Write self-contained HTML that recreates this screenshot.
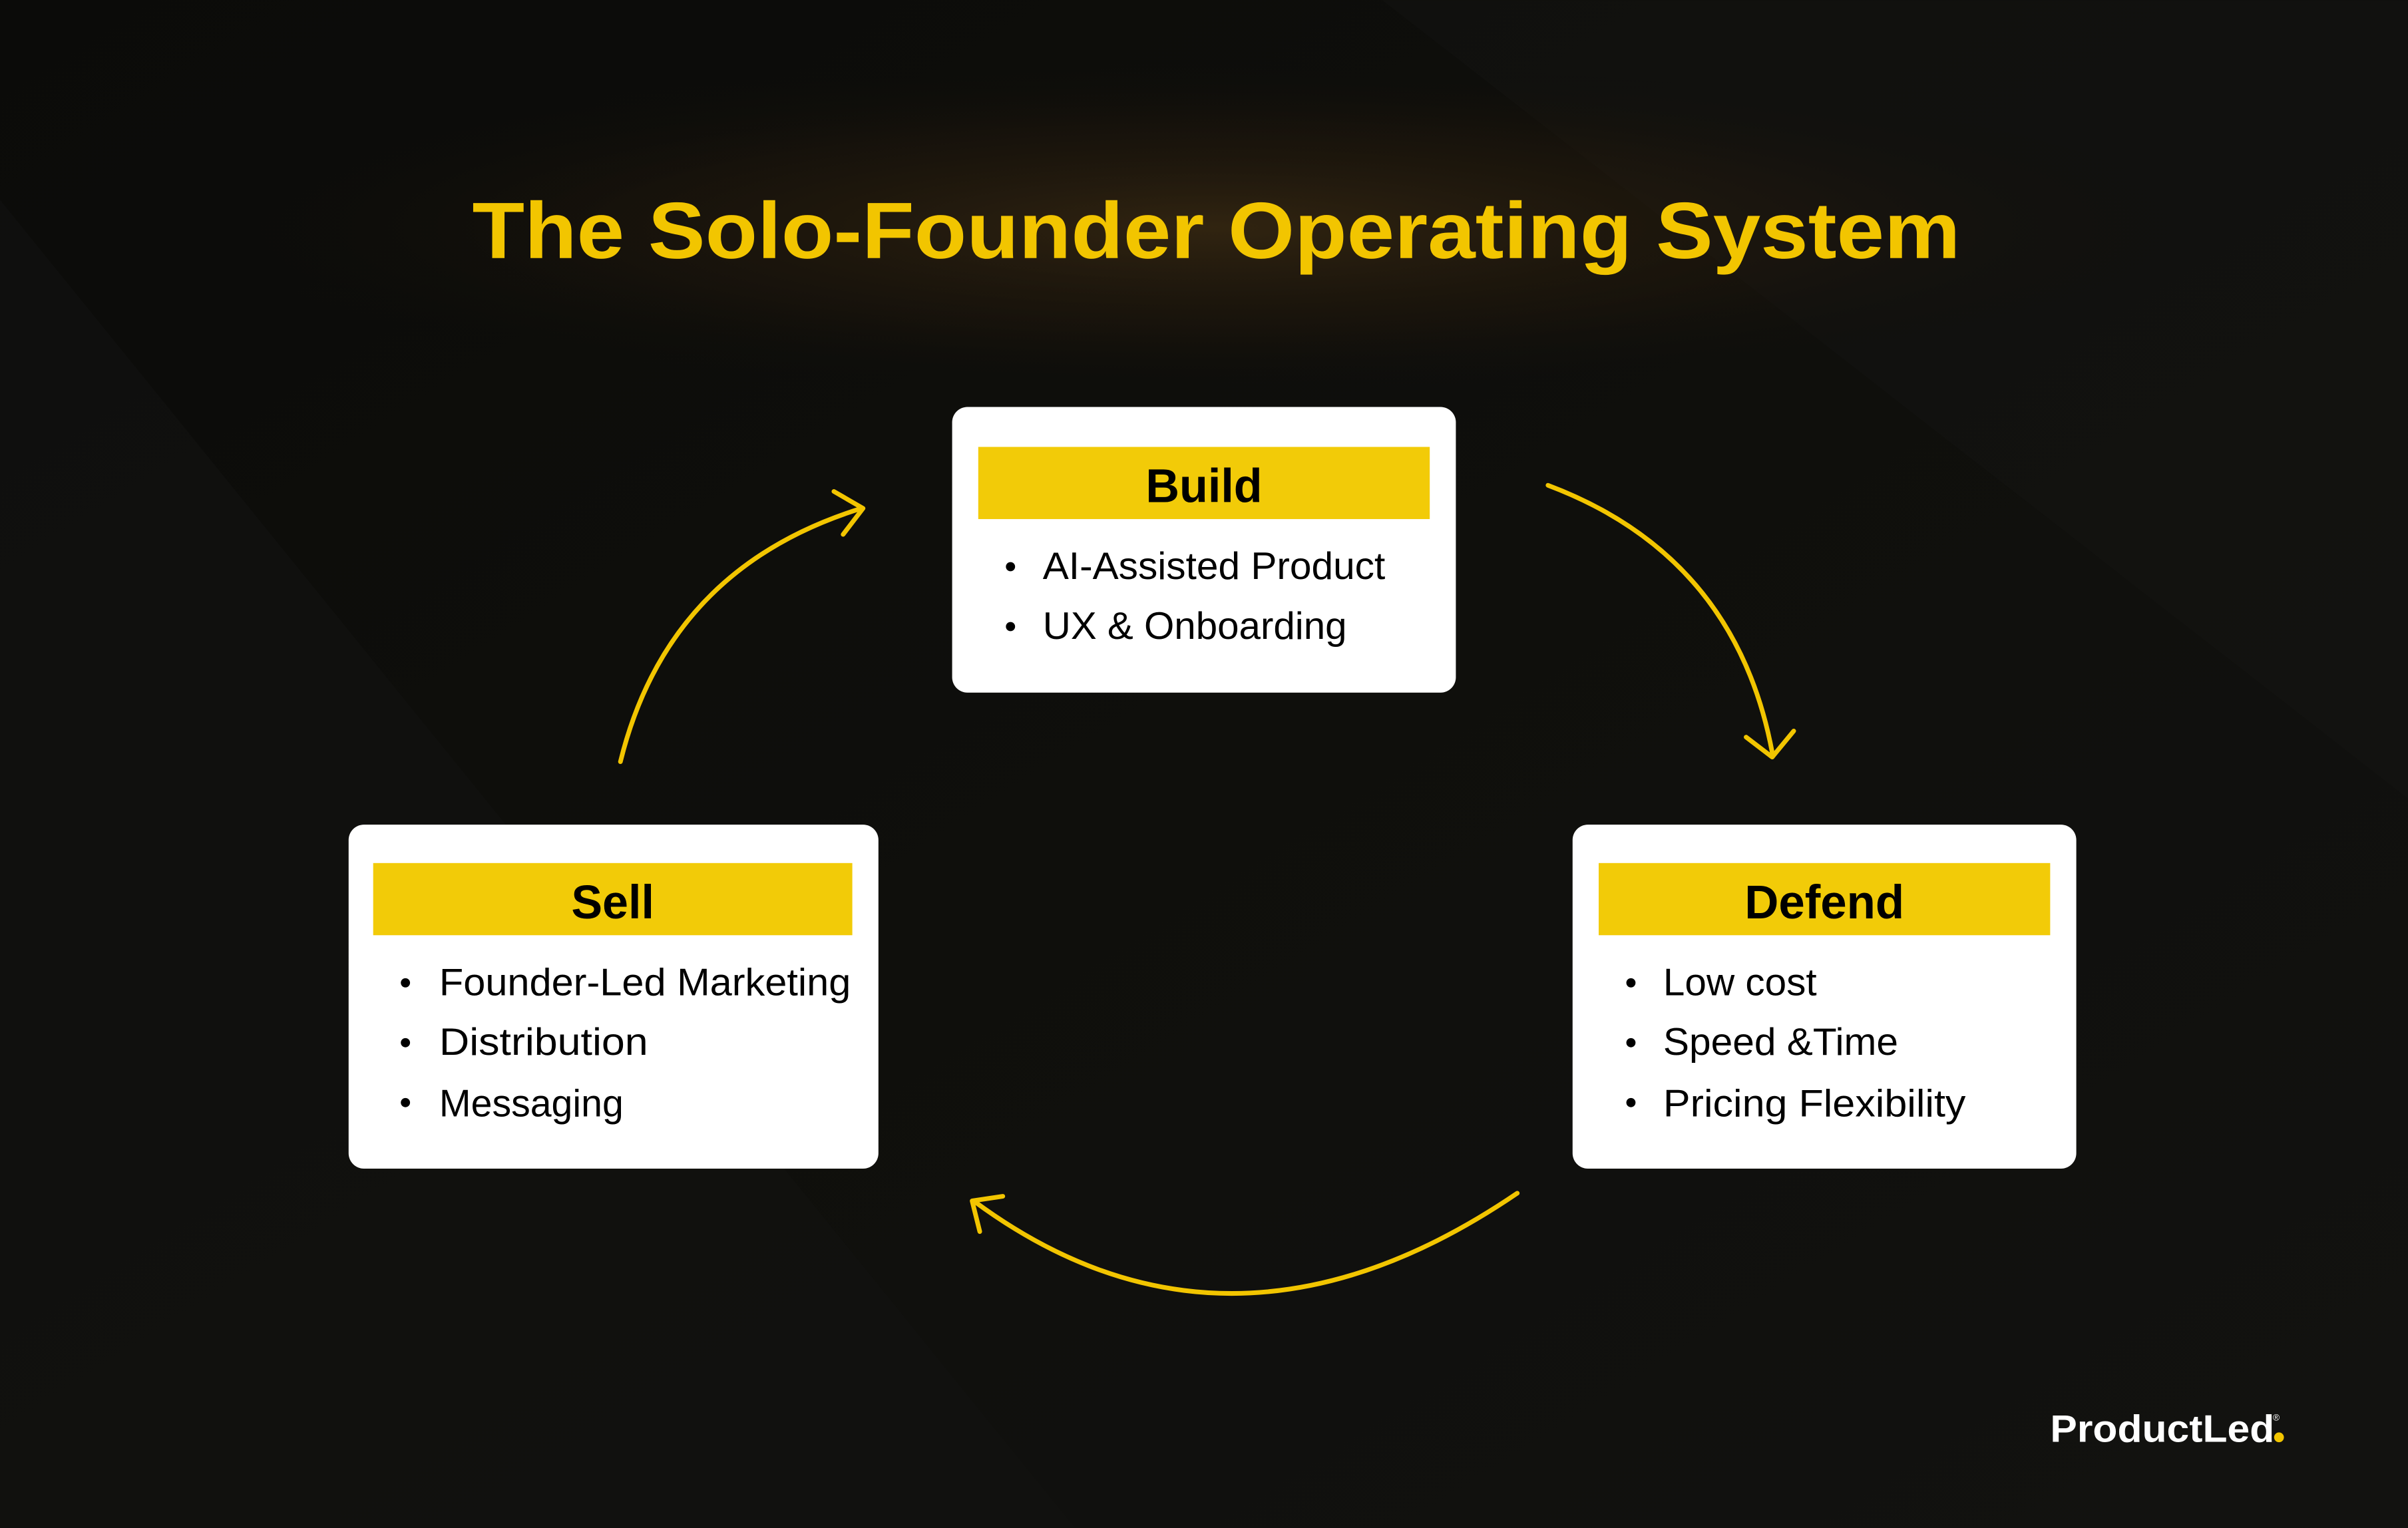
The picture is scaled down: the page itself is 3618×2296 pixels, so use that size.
<!DOCTYPE html>
<html><head><meta charset="utf-8"><style>
html,body{margin:0;padding:0;background:#0d0d0a;}
svg{display:block}
</style></head><body>
<svg width="3618" height="2296" viewBox="0 0 1568 995" xmlns="http://www.w3.org/2000/svg">
<defs>
<radialGradient id="glow" cx="0.5" cy="0.5" r="0.5">
<stop offset="0" stop-color="#3a2a12" stop-opacity="0.8"/>
<stop offset="0.6" stop-color="#24190c" stop-opacity="0.4"/>
<stop offset="1" stop-color="#0d0d0a" stop-opacity="0"/>
</radialGradient>
<linearGradient id="bg" x1="0" y1="0" x2="1" y2="1">
<stop offset="0" stop-color="#0b0b09"/>
<stop offset="0.5" stop-color="#0f0f0c"/>
<stop offset="1" stop-color="#121210"/>
</linearGradient>
</defs>
<rect width="1568" height="995" fill="url(#bg)"/>
<polygon points="0,130 700,995 0,995" fill="#121210" opacity="0.6"/>
<polygon points="900,0 1568,0 1568,520" fill="#141412" opacity="0.5"/>
<ellipse cx="790" cy="148" rx="660" ry="110" fill="url(#glow)"/>
<text x="792" y="168" text-anchor="middle" font-family="Liberation Sans, sans-serif" font-weight="bold" font-size="52" fill="#f2c500" textLength="969" lengthAdjust="spacingAndGlyphs">The Solo-Founder Operating System</text>

<g font-family="Liberation Sans, sans-serif" fill="#000">
<rect x="620" y="265" width="328" height="186" rx="10" fill="#fff"/>
<rect x="637" y="291" width="294" height="47" fill="#f2cb08"/>
<text x="784" y="327" text-anchor="middle" font-size="31" font-weight="bold" textLength="76" lengthAdjust="spacingAndGlyphs">Build</text>
<circle cx="658" cy="369" r="3"/><text x="679" y="377" font-size="25" textLength="223" lengthAdjust="spacingAndGlyphs">AI-Assisted Product</text>
<circle cx="658" cy="408" r="3"/><text x="679" y="416" font-size="25" textLength="198" lengthAdjust="spacingAndGlyphs">UX &amp; Onboarding</text>

<rect x="227" y="537" width="345" height="224" rx="10" fill="#fff"/>
<rect x="243" y="562" width="312" height="47" fill="#f2cb08"/>
<text x="399" y="598" text-anchor="middle" font-size="31" font-weight="bold" textLength="54" lengthAdjust="spacingAndGlyphs">Sell</text>
<circle cx="264" cy="640" r="3"/><text x="286" y="648" font-size="25" textLength="268" lengthAdjust="spacingAndGlyphs">Founder-Led Marketing</text>
<circle cx="264" cy="679" r="3"/><text x="286" y="687" font-size="25" textLength="136" lengthAdjust="spacingAndGlyphs">Distribution</text>
<circle cx="264" cy="718" r="3"/><text x="286" y="727" font-size="25" textLength="120" lengthAdjust="spacingAndGlyphs">Messaging</text>

<rect x="1024" y="537" width="328" height="224" rx="10" fill="#fff"/>
<rect x="1041" y="562" width="294" height="47" fill="#f2cb08"/>
<text x="1188" y="598" text-anchor="middle" font-size="31" font-weight="bold" textLength="104" lengthAdjust="spacingAndGlyphs">Defend</text>
<circle cx="1062" cy="640" r="3"/><text x="1083" y="648" font-size="25" textLength="100" lengthAdjust="spacingAndGlyphs">Low cost</text>
<circle cx="1062" cy="679" r="3"/><text x="1083" y="687" font-size="25" textLength="153" lengthAdjust="spacingAndGlyphs">Speed &amp;Time</text>
<circle cx="1062" cy="718" r="3"/><text x="1083" y="727" font-size="25" textLength="197" lengthAdjust="spacingAndGlyphs">Pricing Flexibility</text>
</g>

<g stroke="#f2c500" stroke-width="3" fill="none" stroke-linecap="round" stroke-linejoin="round">
<path d="M404,496 Q435,370 561,331"/>
<path d="M543,320 L562,331 L549,348"/>
<path d="M1008,316 Q1130,362 1154,490"/>
<path d="M1137,480 L1154,493 L1168,476"/>
<path d="M988,777 Q800,905 634,782"/>
<path d="M653,779 L633,782 L638,802"/>
</g>

<text x="1335" y="939" font-family="Liberation Sans, sans-serif" font-weight="bold" font-size="25" fill="#fff" textLength="146" lengthAdjust="spacingAndGlyphs">ProductLed</text>
<circle cx="1484" cy="936" r="3.2" fill="#f2c500"/>
<text x="1480" y="925" font-family="Liberation Sans, sans-serif" font-size="6" fill="#fff">®</text>
</svg>
</body></html>
